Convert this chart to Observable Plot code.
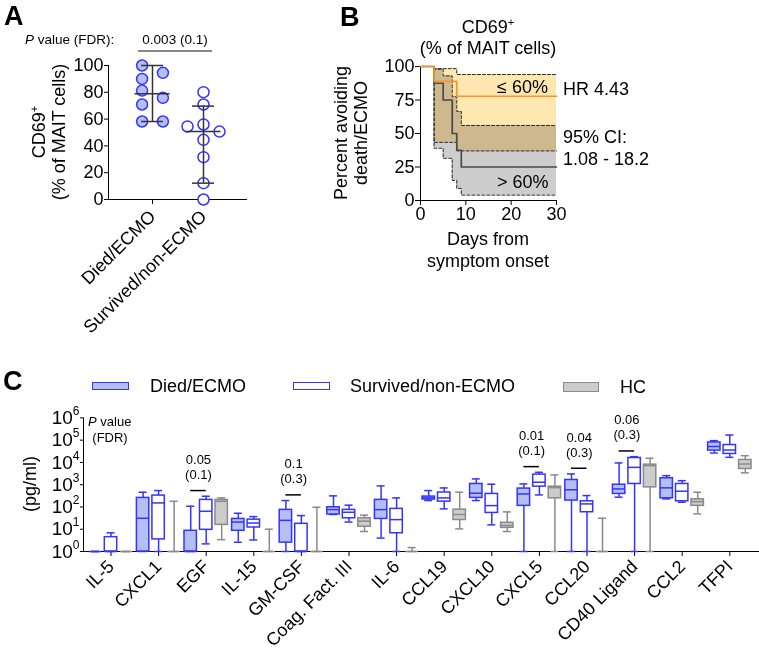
<!DOCTYPE html>
<html>
<head>
<meta charset="utf-8">
<script src="https://cdn.jsdelivr.net/npm/d3@7"></script>
<script src="https://cdn.jsdelivr.net/npm/@observablehq/plot@0.6"></script>
<style>
  body { margin: 0; background: #fff; }
  #fig { position: relative; width: 759px; height: 650px; overflow: hidden; background: #fff;
         font-family: "Liberation Sans", Arial, Helvetica, sans-serif; color: #000; }
  .lbl { position: absolute; white-space: nowrap; line-height: 1; }
  .lbl sup { font-size: 0.62em; vertical-align: 0.62em; line-height: 0; }
  .panel { position: absolute; }
  .panel svg { overflow: visible; display: block; }
  .sw { position: absolute; box-sizing: border-box; }
</style>
</head>
<body>
<div id="fig"></div>
<script>
// ================= DATA =================
// Panel A: CD69+ (% of MAIT cells)
const groupsA = ["Died/ECMO", "Survived/non-ECMO"];
const diedCD69 = [100, 94.5, 90, 81.3, 75.9, 70.9, 58.2, 58.2];
const survivedCD69 = [80.1, 70.9, 56, 54.5, 50.7, 44.5, 31.6, 12.2, 0];
const medianA = [78.9, 50.7];
const errLowA = [58.2, 12.2];
const errHighA = [100, 69.7];
const yTicksA = [0, 20, 40, 60, 80, 100];

// Panel B: Kaplan-Meier, percent avoiding death/ECMO
const daysHigh = [0, 3, 5, 7, 8, 9, 30];          // > 60%
const survHigh = [100, 87.5, 75, 50, 37.5, 25, 25];
const upperHigh = [100, 98, 93, 77.5, 66.5, 56, 56];
const lowerHigh = [100, 39, 31.5, 15, 9, 4, 4];
const daysLow = [0, 3, 8, 30];                    // <= 60%
const survLow = [100, 88.9, 77.8, 77.8];
const upperLow = [100, 98.4, 94, 94];
const lowerLow = [100, 43.4, 37, 37];
const xTicksB = [0, 10, 20, 30];
const yTicksB = [0, 25, 50, 75, 100];

// Panel C: cytokines (pg/ml), box stats [min, q1, median, q3, max]
const cytokines = ["IL-5", "CXCL1", "EGF", "IL-15", "GM-CSF", "Coag. Fact. III", "IL-6",
                   "CCL19", "CXCL10", "CXCL5", "CCL20", "CD40 Ligand", "CCL2", "TFPI"];
const diedStats = [
  [1, 1, 1, 1, 1], [1, 1, 31, 255, 458], [1, 1, 1, 8.5, 108], [2.6, 8.5, 21, 29, 52],
  [1, 2.5, 25, 74, 194], [46, 46, 76, 97, 315], [4, 29, 76, 208, 880], [194, 215, 255, 293, 545],
  [194, 255, 415, 1080, 1820], [1, 112, 385, 670, 1080], [1, 194, 590, 1630, 3040],
  [275, 385, 645, 1000, 9500], [230, 245, 720, 1950, 2550], [26500, 34000, 52000, 79000, 95000]
];
const survivedStats = [
  [1, 1, 1, 4.4, 6.9], [1, 3.5, 152, 325, 545], [2.2, 9.4, 64, 208, 303], [3.3, 12, 19, 27, 37],
  [1, 1, 1, 17.5, 41], [21, 31, 58, 74, 120], [1, 6.6, 27, 82, 255], [82, 174, 255, 445, 715],
  [15.7, 54, 115, 385, 1050], [347, 815, 1290, 2840, 3600], [1, 58, 137, 180, 325],
  [1, 1080, 6000, 15800, 18200], [163, 180, 510, 1080, 1520], [17000, 24000, 36000, 60500, 170000]
];
const hcStats = [
  [1, 1, 1, 1, 1], [1, 1, 1, 1, 180], [3.4, 15.7, 180, 208, 255], [1, 1, 1, 1, 10],
  [1, 1, 1, 1, 97], [7.9, 13, 23, 31, 43], [1, 1, 1, 1, 1.5], [10.4, 26, 46, 76, 460],
  [7.9, 11.5, 14.7, 19.5, 60], [1, 245, 740, 815, 2750], [1, 1, 1, 1, 31],
  [1, 760, 7200, 7950, 15400], [49, 112, 174, 222, 458], [3400, 5100, 8500, 12900, 20000]
];
const pCytokines = ["EGF", "GM-CSF", "CXCL5", "CCL20", "CD40 Ligand"];
const pValues = ["0.05", "0.1", "0.01", "0.04", "0.06"];
const fdrValues = ["0.1", "0.3", "0.1", "0.3", "0.3"];
const yTicksC = [1, 10, 100, 1000, 10000, 100000, 1000000];

// ================= HELPERS =================
const fig = document.getElementById("fig");
const FONT = '"Liberation Sans", Arial, Helvetica, sans-serif';
const BLUE = "#3434ff", BLUEFILL = "#b4c0f4", GRAYSTROKE = "#8a8a8a", GRAYFILL = "#cccccc";

function label(html, x, y, o = {}) {
  const d = document.createElement("div");
  d.className = "lbl";
  d.innerHTML = html;
  d.style.left = x + "px";
  d.style.top = y + "px";
  d.style.fontSize = (o.size || 18) + "px";
  if (o.bold) d.style.fontWeight = "bold";
  const ax = o.anchor === "start" ? "0" : o.anchor === "end" ? "-100%" : "-50%";
  d.style.transform = `translate(${ax},-50%)` + (o.rotate ? ` rotate(${o.rotate}deg)` : "");
  fig.appendChild(d);
  return d;
}
function swatch(x, y, w, h, fill, stroke) {
  const d = document.createElement("div");
  d.className = "sw";
  Object.assign(d.style, {left: x + "px", top: y + "px", width: w + "px", height: h + "px",
    background: fill, border: `1.5px solid ${stroke}`});
  fig.appendChild(d);
}
function addPlot(svg, left, top, width) {
  const d = document.createElement("div");
  d.className = "panel";
  d.style.left = left + "px";
  d.style.top = top + "px";
  d.style.width = width + "px";
  d.appendChild(svg);
  fig.appendChild(d);
}
const baseStyle = {fontFamily: FONT, fontSize: "18px", background: "transparent", overflow: "visible", color: "#000"};

// ================= PANEL A =================
const A = {left: 108, right: 246, top: 65, bottom: 199, tick0: 152, tick1: 203};
const pxPerUnitA = A.tick1 - A.tick0;
const yPxPerValA = (A.bottom - A.top) / 100;
// simple beeswarm: odd groups start at the centre, even groups in two columns
function dodgeOffsets(values, r, step) {
  const order = values.length % 2 ? [0, -1, 1, -2, 2] : [-0.65, 0.65, -1.95, 1.95];
  const placed = [];
  return values.map(v => {
    const y = v * yPxPerValA;
    for (const k of order) {
      const x = k * step;
      if (placed.every(p => Math.hypot(p.x - x, p.y - y) >= 2 * r)) { placed.push({x, y}); return x; }
    }
    placed.push({x: 0, y}); return 0;
  });
}
const dotsA = [diedCD69, survivedCD69].flatMap((vals, g) => {
  const offs = dodgeOffsets(vals, 5.5, 16);
  return vals.map((v, i) => ({g, v, x: g + offs[i] / pxPerUnitA}));
});
const statsA = groupsA.map((name, g) => ({g, med: medianA[g], lo: errLowA[g], hi: errHighA[g]}));
const capA = 11 / pxPerUnitA, medW = 17.5 / pxPerUnitA;

const plotA = Plot.plot({
  width: 250, height: 345,
  marginLeft: A.left, marginRight: 250 - A.right, marginTop: A.top, marginBottom: 345 - A.bottom,
  style: baseStyle,
  color: {type: "identity"},
  x: {domain: [(A.left - A.tick0) / pxPerUnitA, (A.right - A.tick0) / pxPerUnitA],
      ticks: [0, 1], tickFormat: i => groupsA[i], tickRotate: -45, tickSize: 5, tickPadding: 9, line: true, label: null},
  y: {domain: [0, 100], ticks: yTicksA, tickSize: 4, tickPadding: 1, line: true, label: null},
  marks: [
    Plot.dot(dotsA, {x: "x", y: "v", r: 5.5, fill: d => d.g === 0 ? BLUEFILL : "#ffffff", stroke: BLUE, strokeWidth: 1.5}),
    Plot.ruleX(statsA, {x: "g", y1: "lo", y2: "hi", stroke: "#333", strokeWidth: 1.5}),
    Plot.ruleY(statsA, {y: "hi", x1: d => d.g - capA, x2: d => d.g + capA, stroke: "#333", strokeWidth: 1.5}),
    Plot.ruleY(statsA, {y: "lo", x1: d => d.g - capA, x2: d => d.g + capA, stroke: "#333", strokeWidth: 1.5}),
    Plot.ruleY(statsA, {y: "med", x1: d => d.g - medW, x2: d => d.g + medW, stroke: "#333", strokeWidth: 1.5})
  ]
});
addPlot(plotA, 0, 0, 250);

label("A", 4, 16, {size: 27, bold: true, anchor: "start"});
label("<i>P</i> value (FDR):", 25, 40, {size: 13.5, anchor: "start"});
label("0.003 (0.1)", 175, 40, {size: 13.5});
{
  const b = document.createElement("div");
  Object.assign(b.style, {position: "absolute", left: "138px", top: "50px", width: "74px", height: "0", borderTop: "2px solid #888"});
  fig.appendChild(b);
}
label("CD69<sup>+</sup>", 38.5, 132, {size: 18, rotate: -90});
label("(% of MAIT cells)", 58.5, 132, {size: 18, rotate: -90});

// ================= PANEL B =================
const B = {svgLeft: 300, width: 459, left: 420, right: 556, top: 66, bottom: 200};
const hiRows = daysHigh.map((d, i) => ({d, s: survHigh[i], up: upperHigh[i], lo: lowerHigh[i]}));
const loRows = daysLow.map((d, i) => ({d, s: survLow[i], up: upperLow[i], lo: lowerLow[i]}));
const dash = {curve: "step-after", stroke: "#2a2a2a", strokeWidth: 1, strokeDasharray: "3,2"};
const plotB = Plot.plot({
  width: B.width, height: 300,
  marginLeft: B.left - B.svgLeft, marginRight: B.svgLeft + B.width - B.right,
  marginTop: B.top, marginBottom: 300 - B.bottom,
  style: baseStyle,
  x: {domain: [0, 30], ticks: xTicksB, tickSize: 5, tickPadding: 2, line: true, label: null},
  y: {domain: [0, 100], ticks: yTicksB, tickSize: 5, tickPadding: 1, line: true, label: null},
  marks: [
    Plot.areaY(hiRows, {x: "d", y1: "lo", y2: "up", curve: "step-after", fill: "#cdcdcd"}),
    Plot.areaY(loRows, {x: "d", y1: "lo", y2: "up", curve: "step-after", fill: "#ffe7b0", mixBlendMode: "multiply"}),
    Plot.lineY(hiRows, {x: "d", y: "up", ...dash}),
    Plot.lineY(hiRows, {x: "d", y: "lo", ...dash}),
    Plot.lineY(loRows, {x: "d", y: "up", ...dash}),
    Plot.lineY(loRows, {x: "d", y: "lo", ...dash}),
    Plot.lineY(hiRows, {x: "d", y: "s", curve: "step-after", stroke: "#4a4a4a", strokeWidth: 1.7}),
    Plot.lineY(loRows, {x: "d", y: "s", curve: "step-after", stroke: "#f5962a", strokeWidth: 1.7})
  ]
});
addPlot(plotB, B.svgLeft, 0, B.width);

label("B", 340, 17, {size: 27, bold: true, anchor: "start"});
label("CD69<sup>+</sup>", 488, 27, {size: 18});
label("(% of MAIT cells)", 488, 48, {size: 18});
label("Percent avoiding", 341, 133, {size: 18, rotate: -90});
label("death/ECMO", 361, 133, {size: 18, rotate: -90});
label("Days from", 488, 239, {size: 18});
label("symptom onset", 488, 261, {size: 18});
label("≤ 60%", 497, 87, {size: 18, anchor: "start"});
label("&gt; 60%", 497, 182, {size: 18, anchor: "start"});
label("HR 4.43", 563, 89, {size: 18, anchor: "start"});
label("95% CI:", 563, 137, {size: 18, anchor: "start"});
label("1.08 - 18.2", 563, 159, {size: 18, anchor: "start"});

// ================= PANEL C =================
const C = {svgTop: 400, left: 83, right: 758, top: 417.4, bottom: 551, tick0: 110.5, step: 47.6};
const gOff = 15.5 / C.step, boxW = 6.2 / C.step, capC = 4 / C.step;
const statsByGroup = [diedStats, survivedStats, hcStats];
const strokes = [BLUE, BLUE, GRAYSTROKE];
const fills = [BLUEFILL, "#ffffff", GRAYFILL];
const rowsC = cytokines.flatMap((name, i) => statsByGroup.map((arr, g) => {
  const [min, q1, med, q3, max] = arr[i];
  return {i, g, name, min, q1, med, q3, max};
}));
const pos = d => d.i + (d.g - 1) * gOff;
const pAnn = pCytokines.map((name, k) => {
  const i = cytokines.indexOf(name);
  return {i, p: pValues[k], fdr: fdrValues[k], yb: Math.max(diedStats[i][4], survivedStats[i][4]) * 1.8};
});
const sw = 1.5;
const plotC = Plot.plot({
  width: 759, height: 250,
  marginLeft: C.left, marginRight: 759 - C.right,
  marginTop: C.top - C.svgTop, marginBottom: 250 - (C.bottom - C.svgTop),
  style: baseStyle,
  color: {type: "identity"},
  x: {domain: [(C.left - C.tick0) / C.step, (C.right - C.tick0) / C.step],
      ticks: d3.range(cytokines.length), tickFormat: i => cytokines[i], tickRotate: -45,
      tickSize: 5, tickPadding: 7, line: true, label: null},
  y: {type: "log", domain: [1, 1e6], ticks: yTicksC, tickFormat: d => "10^" + Math.round(Math.log10(d)),
      tickSize: 3, tickPadding: 1, line: true, label: null},
  marks: [
    Plot.ruleX(rowsC, {x: pos, y1: "min", y2: "max", stroke: d => strokes[d.g], strokeWidth: sw}),
    Plot.ruleY(rowsC, {y: "max", x1: d => pos(d) - capC, x2: d => pos(d) + capC, stroke: d => strokes[d.g], strokeWidth: sw}),
    Plot.ruleY(rowsC, {y: "min", x1: d => pos(d) - capC, x2: d => pos(d) + capC, stroke: d => strokes[d.g], strokeWidth: sw}),
    Plot.rect(rowsC, {x1: d => pos(d) - boxW, x2: d => pos(d) + boxW, y1: "q1", y2: "q3",
      fill: d => fills[d.g], stroke: d => strokes[d.g], strokeWidth: sw}),
    Plot.ruleY(rowsC, {y: "med", x1: d => pos(d) - boxW, x2: d => pos(d) + boxW, stroke: d => strokes[d.g], strokeWidth: sw}),
    Plot.ruleY(pAnn, {y: "yb", x1: d => d.i - gOff, x2: d => d.i, stroke: "#000", strokeWidth: 1.5}),
    Plot.text(pAnn, {x: d => d.i - gOff / 2, y: "yb", text: d => `${d.p}\n(${d.fdr})`,
      lineAnchor: "middle", lineHeight: 1.15, dy: -24, fontSize: 13, fill: "#000"})
  ]
});
// superscript exponents on the log axis
plotC.querySelectorAll("text").forEach(t => {
  const m = /^10\^(\d)$/.exec(t.textContent);
  if (m) {
    t.textContent = "10";
    t.setAttribute("font-size", "19");
    const ts = document.createElementNS("http://www.w3.org/2000/svg", "tspan");
    ts.setAttribute("dy", "-9");
    ts.setAttribute("font-size", "12");
    ts.textContent = m[1];
    t.appendChild(ts);
  }
});
addPlot(plotC, 0, C.svgTop, 759);

label("C", 3, 381, {size: 27, bold: true, anchor: "start"});
swatch(92, 382, 37, 8, BLUEFILL, BLUE);
label("Died/ECMO", 150, 386, {size: 18, anchor: "start"});
swatch(293, 382, 37, 8, "#ffffff", BLUE);
label("Survived/non-ECMO", 350, 386, {size: 18, anchor: "start"});
swatch(563, 382, 36, 10, GRAYFILL, GRAYSTROKE);
label("HC", 620, 387, {size: 18, anchor: "start"});
label("<i>P</i> value", 88, 421, {size: 13, anchor: "start"});
label("(FDR)", 110, 437, {size: 13});
label("(pg/ml)", 30, 484, {size: 18, rotate: -90});
</script>
</body>
</html>
